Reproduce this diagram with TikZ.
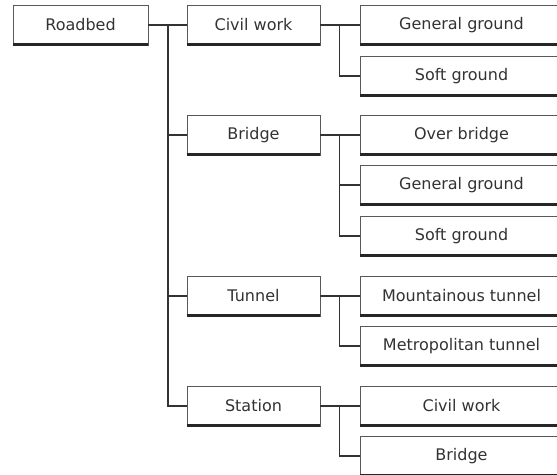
\documentclass[tikz,border=0pt]{standalone}
\usepackage{fontspec}
\setmainfont{DejaVu Sans}
\begin{document}
\begin{tikzpicture}[x=1pt,y=-1pt,
  catbox/.style={draw=black!65, line width=0.7pt, fill=white, inner sep=0pt,
    minimum height=40pt, text=black!80, font=\fontsize{16}{18}\selectfont},
  rootbox/.style={catbox, minimum width=135pt},
  midbox/.style={catbox, minimum width=133pt},
  leafbox/.style={catbox, minimum width=203pt},
  link/.style={draw=black!80, line width=1.6pt}]
\useasboundingbox (0,0) rectangle (557,474);

% boxes
\node[rootbox] (road) at (80.5,25) {Roadbed};
\node[midbox] (civil)   at (253.5,25)  {Civil work};
\node[midbox] (bridge)  at (253.5,135) {Bridge};
\node[midbox] (tunnel)  at (253.5,296) {Tunnel};
\node[midbox] (station) at (253.5,406) {Station};

\node[leafbox] (cgg) at (461.5,25)  {General ground};
\node[leafbox] (csg) at (461.5,76)  {Soft ground};
\node[leafbox] (bob) at (461.5,135) {Over bridge};
\node[leafbox] (bgg) at (461.5,185) {General ground};
\node[leafbox] (bsg) at (461.5,236) {Soft ground};
\node[leafbox] (tmt) at (461.5,296) {Mountainous tunnel};
\node[leafbox] (tme) at (461.5,346) {Metropolitan tunnel};
\node[leafbox] (scw) at (461.5,406) {Civil work};
\node[leafbox] (sbr) at (461.5,456) {Bridge};

% heavy lower edge of every box
\foreach \n in {road,civil,bridge,tunnel,station,cgg,csg,bob,bgg,bsg,tmt,tme,scw,sbr}
  \draw[black!85, line width=2.2pt] ([yshift=0.8pt]\n.south west) -- ([yshift=0.8pt]\n.south east);

% trunk from the root
\coordinate (rt) at (168,25);
\draw[link] (road.east) -- (civil.west);
\draw[link] (rt) |- (station.west);
\draw[link] (rt |- bridge.west) -- (bridge.west);
\draw[link] (rt |- tunnel.west) -- (tunnel.west);

% branches of each group
\foreach \p/\last/\kids in {civil/csg/{cgg,csg}, bridge/bsg/{bob,bgg,bsg},
                            tunnel/tme/{tmt,tme}, station/sbr/{scw,sbr}} {
  \coordinate (br) at ([xshift=19pt]\p.east);
  \draw[link] (\p.east) -- ([xshift=40pt]\p.east);
  \draw[link] (br) -- (br |- \last.west);
  \foreach \k in \kids
    \draw[link] (br |- \k.west) -- (\k.west);
}
\end{tikzpicture}
\end{document}
